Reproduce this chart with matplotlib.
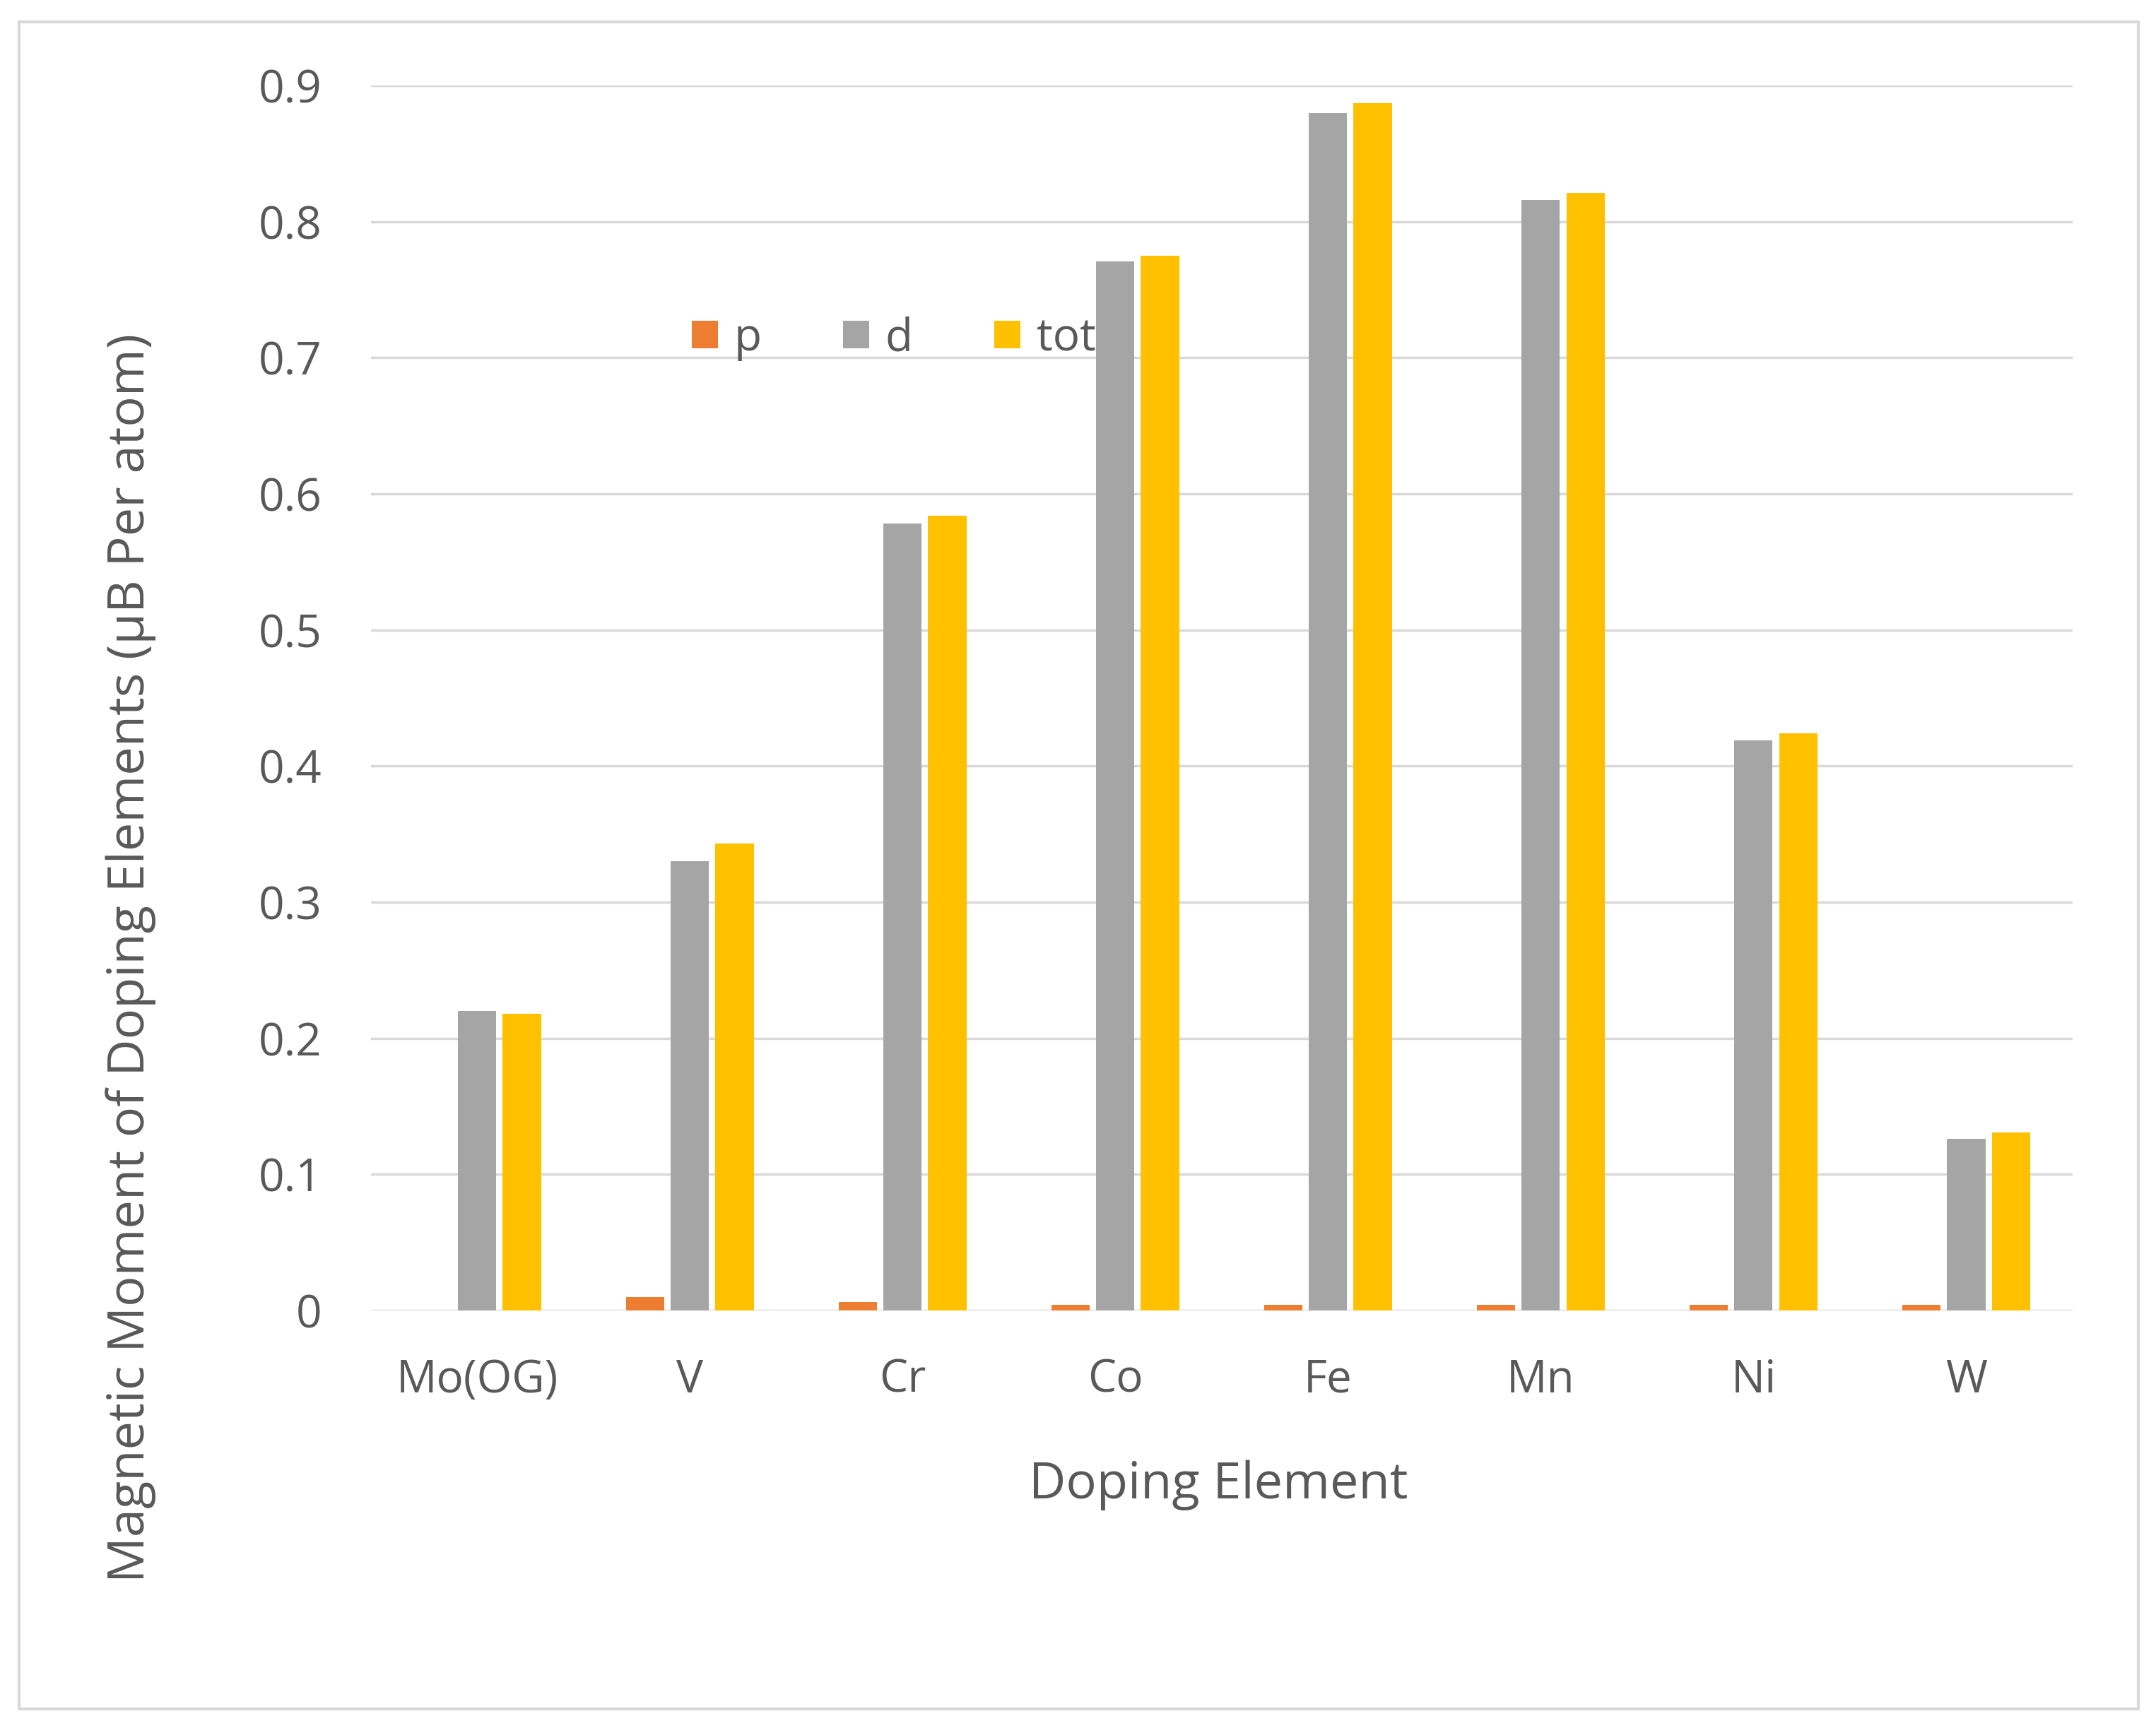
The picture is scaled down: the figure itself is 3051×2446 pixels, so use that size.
import matplotlib
matplotlib.use("Agg")
import matplotlib.pyplot as plt
import numpy as np
from matplotlib.patches import Rectangle

categories = ["Mo(OG)", "V", "Cr", "Co", "Fe", "Mn", "Ni", "W"]
p_vals = [0.0, 0.010, 0.006, 0.004, 0.004, 0.004, 0.004, 0.004]
d_vals = [0.220, 0.330, 0.578, 0.771, 0.880, 0.816, 0.419, 0.126]
tot_vals = [0.218, 0.343, 0.584, 0.775, 0.887, 0.821, 0.424, 0.131]
yticks = [0, 0.1, 0.2, 0.3, 0.4, 0.5, 0.6, 0.7, 0.8, 0.9]
ytick_labels = ["0", "0.1", "0.2", "0.3", "0.4", "0.5", "0.6", "0.7", "0.8", "0.9"]

plt.rcParams['font.family'] = ['Open Sans', 'DejaVu Sans']
txt = '#595959'

fig = plt.figure(figsize=(30.51, 24.46), dpi=100)
fig.patches.append(Rectangle((27/3051, 1-2419/2446), (3026-27)/3051, (2419-31)/2446,
                             transform=fig.transFigure, fill=False,
                             edgecolor='#d9d9d9', linewidth=3, zorder=0))
ax = fig.add_axes([0.172, 0.2416, 0.9613-0.172, 0.9505-0.2416])

x = np.arange(len(categories))
w = 0.18
off = 0.21
ax.bar(x - off, p_vals, w, color='#ED7D31', label='p', zorder=3)
ax.bar(x, d_vals, w, color='#A5A5A5', label='d', zorder=3)
ax.bar(x + off, tot_vals, w, color='#FFC000', label='tot', zorder=3)

ax.set_xlim(-0.5, len(categories) - 0.5)
ax.set_ylim(0, 0.9)
ax.set_yticks(yticks)
ax.set_yticklabels(ytick_labels)
ax.set_xticks(x)
ax.set_xticklabels(categories)
ax.yaxis.grid(True, color='#d9d9d9', linewidth=2.5, zorder=0)
ax.set_axisbelow(True)
for s in ax.spines.values():
    s.set_visible(False)
ax.tick_params(axis='both', length=0, labelsize=46, colors=txt)
ax.tick_params(axis='y', pad=50)
ax.tick_params(axis='x', pad=48)
ax.set_xlabel("Doping Element", fontsize=52, color=txt)
ax.xaxis.label.set_va('center')
ax.xaxis.set_label_coords(0.498, -0.1424)
ax.set_ylabel("Magnetic Moment of Doping Elements (μB Per atom)", fontsize=52, color=txt)
ax.yaxis.label.set_va('center')
ax.yaxis.label.set_ha('center')
ax.yaxis.set_label_coords(-0.141, 0.2878)

ax.legend(loc='center left', bbox_to_anchor=(0.1885, 0.7935), ncol=3, frameon=False,
          fontsize=46, labelcolor=txt, handlelength=0.58, handleheight=0.58,
          handletextpad=0.36, columnspacing=1.8, borderpad=0, borderaxespad=0)

fig.savefig("out.png", dpi=100, facecolor='white')
